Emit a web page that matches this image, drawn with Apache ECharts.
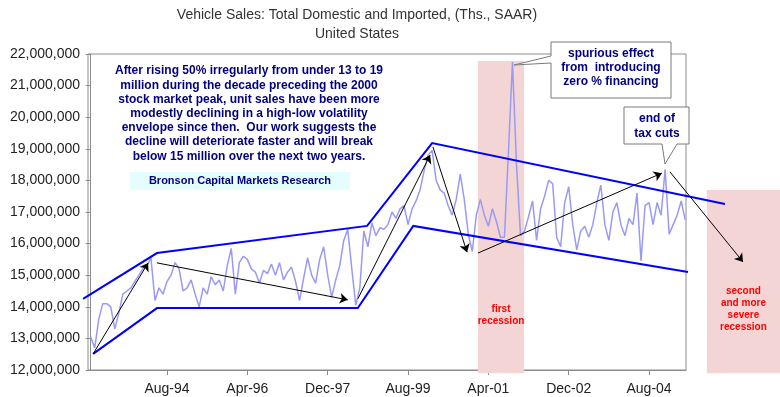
<!DOCTYPE html>
<html>
<head>
<meta charset="utf-8">
<script src="https://cdn.jsdelivr.net/npm/echarts@6/dist/echarts.min.js"></script>
<style>
html,body{margin:0;padding:0;background:#fff}
#chart{width:780px;height:397px}
</style>
</head>
<body>
<div id="chart"></div>
<script>
// monthly vehicle sales, millions of units (SAAR), Jan-93 .. May-05 (index 0 = Jan-93)
var sales = [
  13.05,12.7,13.6,14.1,14.1,14.0,13.3,13.8,14.4,14.5,14.6,14.8,
  15.0,15.2,15.3,15.55,14.2,14.6,14.4,14.8,15.0,15.4,15.2,14.5,
  14.6,14.85,14.4,14.0,14.6,14.4,14.95,14.7,14.85,14.5,15.3,15.85,
  14.4,15.4,15.6,15.5,15.2,15.1,14.75,15.15,15.05,15.35,15.0,15.4,
  14.85,15.1,15.25,14.8,14.2,14.9,15.55,15.0,14.75,15.5,15.9,15.0,
  14.3,14.85,15.3,16.1,16.45,15.2,14.05,14.6,16.4,15.9,16.65,16.25,
  16.5,16.45,16.6,17.0,16.8,17.1,17.2,16.6,17.1,17.35,17.7,18.3,
  18.8,18.95,18.0,17.7,17.6,17.2,16.9,17.4,18.2,17.4,16.3,15.75,
  16.9,17.4,16.9,16.55,17.1,16.7,16.2,16.2,18.9,21.75,18.5,16.25,
  16.4,16.85,17.35,16.1,17.1,17.5,18.0,17.9,16.2,15.9,17.3,17.8,
  16.6,15.8,16.4,16.55,16.2,16.6,17.3,17.85,16.6,16.1,17.0,17.3,
  16.6,16.25,16.8,16.6,17.6,15.45,17.2,17.3,16.6,17.3,16.9,18.35,
  16.3,16.6,16.9,17.35,16.75
]
var tickIdx = [19, 39, 59, 79, 99, 119, 139]
var tickLabels = ['Aug-94', 'Apr-96', 'Dec-97', 'Aug-99', 'Apr-01', 'Dec-02', 'Aug-04']

// envelope drawn by hand on the original (month index, millions)
var upperEnv = [[-1.9, 14.25], [16.5, 15.7], [68.8, 16.56], [85.0, 19.18], [157.9, 17.25]]
var lowerEnv = [[0.6, 12.51], [16.5, 13.96], [66.5, 13.96], [80.3, 16.56], [148.7, 15.1]]

var arrows = [
  [[0.6, 12.51], [14.3, 15.39]],
  [[16.5, 15.39], [64.0, 14.22]],
  [[66.5, 14.25], [84.5, 18.8]],
  [[85.2, 19.06], [93.7, 15.73]],
  [[96.4, 15.70], [142.2, 18.23]],
  [[144.2, 18.27], [162.4, 15.42]]
]

// shaded recession blocks: [fromIdx, toIdx, low, high, labelValue]
var recessions = [
  [96.4, 107.9, 11.9, 21.78, 13.74],
  [153.4, 171.6, 11.9, 17.7, 13.93]
]
var recessionLabels = ['first\nrecession', 'second\nand more\nsevere\nrecession']

var mainNote = 'After rising 50% irregularly from under 13 to 19\n' +
  'million during the decade preceding the 2000\n' +
  'stock market peak, unit sales have been more\n' +
  'modestly declining in a high-low volatility\n' +
  'envelope since then.  Our work suggests the\n' +
  'decline will deteriorate faster and will break\n' +
  'below 15 million over the next two years.'

var chart = echarts.init(document.getElementById('chart'))
var font = 'Liberation Sans, Arial, sans-serif'
var navy = '#000080'

function fmtNum(v) {
  return String(Math.round(v * 1e6)).replace(/\B(?=(\d{3})+(?!\d))/g, ',')
}

var option = {
  animation: false,
  backgroundColor: '#fff',
  grid: {
    left: 88, right: 94, top: 54, bottom: 27,
    show: true, borderColor: '#8c8c8c', borderWidth: 1
  },
  xAxis: {
    type: 'value',
    min: -0.67,
    max: 148.2,
    splitLine: { show: false },
    axisLine: { show: true, lineStyle: { color: '#8c8c8c', width: 1 } },
    axisTick: { show: true, length: 5, lineStyle: { color: '#8c8c8c' }, customValues: tickIdx },
    axisLabel: {
      customValues: tickIdx,
      margin: 12,
      color: '#222',
      fontSize: 14,
      fontFamily: font,
      formatter: function (v) { return tickLabels[tickIdx.indexOf(v)] || '' }
    }
  },
  yAxis: {
    type: 'value',
    min: 12,
    max: 22,
    interval: 1,
    splitLine: { show: false },
    axisLine: { show: true, lineStyle: { color: '#8c8c8c', width: 1 } },
    axisTick: { show: true, length: 5, lineStyle: { color: '#8c8c8c' } },
    axisLabel: { color: '#222', fontSize: 14, fontFamily: font, margin: 8, formatter: fmtNum }
  },
  series: [
    {
      type: 'custom',
      clip: false,
      z: 1,
      silent: true,
      data: recessions,
      renderItem: function (params, api) {
        var p0 = api.coord([api.value(0), api.value(3)])
        var p1 = api.coord([api.value(1), api.value(2)])
        var pc = api.coord([(api.value(0) + api.value(1)) / 2, api.value(4)])
        return {
          type: 'group',
          children: [
            {
              type: 'rect',
              shape: { x: p0[0], y: p0[1], width: p1[0] - p0[0], height: p1[1] - p0[1] },
              style: { fill: '#f4d5d5' }
            },
            {
              type: 'text',
              x: pc[0], y: pc[1],
              style: {
                text: recessionLabels[params.dataIndex],
                fill: '#ff0000',
                font: 'bold 10px ' + font,
                lineHeight: 12,
                align: 'center',
                verticalAlign: 'middle'
              }
            }
          ]
        }
      }
    },
    {
      name: 'Sales',
      type: 'line',
      z: 3,
      data: sales.map(function (v, i) { return [i, v] }),
      showSymbol: false,
      lineStyle: { color: '#9a9af5', width: 1.5 }
    },
    {
      // high-low volatility envelope
      type: 'lines',
      coordinateSystem: 'cartesian2d',
      polyline: true,
      z: 4,
      clip: false,
      lineStyle: { color: '#0000ff', width: 2, opacity: 1 },
      data: [{ coords: upperEnv }, { coords: lowerEnv }]
    },
    {
      type: 'lines',
      coordinateSystem: 'cartesian2d',
      z: 5,
      clip: false,
      symbol: ['none', 'arrow'],
      symbolSize: 8,
      lineStyle: { color: '#000', width: 1, opacity: 1 },
      data: arrows.map(function (a) { return { coords: a } })
    }
  ],
  graphic: [
    {
      type: 'text', x: 357, y: 6,
      style: {
        text: 'Vehicle Sales: Total Domestic and Imported, (Ths., SAAR)\nUnited States',
        font: '14px ' + font, fill: '#333', align: 'center', verticalAlign: 'top', lineHeight: 19
      }
    },
    {
      type: 'text', x: 249, y: 64,
      style: {
        text: mainNote, font: 'bold 12px ' + font, fill: navy,
        align: 'center', verticalAlign: 'top', lineHeight: 14.2
      }
    },
    {
      type: 'rect', shape: { x: 130, y: 172, width: 220, height: 18 },
      style: { fill: '#e4fdfd' }
    },
    {
      type: 'text', x: 240, y: 181,
      style: {
        text: 'Bronson Capital Markets Research', font: 'bold 11px ' + font, fill: navy,
        align: 'center', verticalAlign: 'middle'
      }
    },
    {
      type: 'polygon', z: 10,
      shape: { points: [[551, 42], [671, 42], [671, 98], [551, 98], [551, 63], [514, 65], [551, 56]] },
      style: { fill: '#fff', stroke: '#7a7a7a', lineWidth: 1 }
    },
    {
      type: 'text', z: 11, x: 611, y: 47,
      style: {
        text: 'spurious effect\nfrom  introducing\nzero % financing', font: 'bold 12px ' + font,
        fill: navy, align: 'center', verticalAlign: 'top', lineHeight: 14
      }
    },
    {
      type: 'polygon', z: 10,
      shape: { points: [[624, 107], [689, 107], [689, 144], [677, 144], [665, 164], [662, 144], [624, 144]] },
      style: { fill: '#fff', stroke: '#7a7a7a', lineWidth: 1 }
    },
    {
      type: 'text', z: 11, x: 657, y: 111,
      style: {
        text: 'end of\ntax cuts', font: 'bold 12px ' + font,
        fill: navy, align: 'center', verticalAlign: 'top', lineHeight: 15
      }
    }
  ]
}

chart.setOption(option)
</script>
</body>
</html>
